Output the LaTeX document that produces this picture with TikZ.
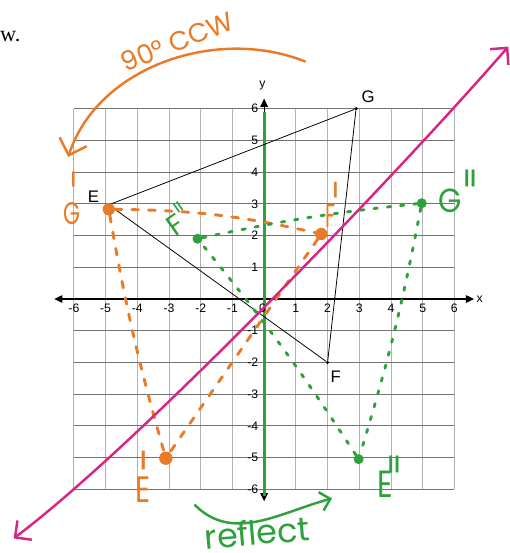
\documentclass[tikz,border=0pt]{standalone}
\usepackage{fontspec}
\setmainfont{Liberation Sans}
\newfontfamily\handfont{Poppins}
\newfontfamily\primefont{DejaVu Sans}
\newfontfamily\pagefont{Liberation Serif}
\usetikzlibrary{arrows.meta}
\definecolor{penorange}{RGB}{233,122,38}
\definecolor{pengreen}{RGB}{46,160,60}
\definecolor{penpink}{RGB}{218,36,130}
\newcommand\thinmark[1]{\scalebox{0.55}[1]{#1}}
\begin{document}
\begin{tikzpicture}[x=1cm,y=1cm,
  gridh/.style={black!55, line width=0.7pt},
  gridv/.style={black!30, line width=0.7pt},
  axisline/.style={black, line width=1pt},
  axtip/.style={{Triangle[length=2.6mm,width=2.4mm]}-{Triangle[length=2.6mm,width=2.4mm]}},
  tick/.style={font=\fontsize{11}{13}\selectfont, inner sep=0pt},
  bdot/.style={circle, fill=black, inner sep=0pt, minimum size=3pt},
  tri/.style={black, line width=0.7pt},
  lab/.style={font=\fontsize{15}{17}\selectfont, inner sep=0pt},
  odot/.style={circle, fill=penorange, inner sep=0pt, minimum size=11pt},
  gdot/.style={circle, fill=pengreen, inner sep=0pt, minimum size=9pt},
  odash/.style={penorange, line width=2.6pt, line cap=round, dash pattern=on 6pt off 9pt},
  gdash/.style={pengreen, line width=2.6pt, line cap=round, dash pattern=on 3pt off 9pt},
  pen/.style={line width=2.2pt, line cap=round},
  hand/.style={inner sep=0pt},
  primemark/.style={inner sep=0pt, anchor=base},
]
\useasboundingbox (-8.33,-8.01) rectangle (7.73,9.43);

% grid
\foreach \i in {-6,...,6} {
  \draw[gridv] (\i,-6) -- (\i,6);
}
\foreach \i in {-6,...,6} {
  \draw[gridh] (-6,\i) -- (6,\i);
}

% axes
\coordinate (xl) at (-6.62,0);
\coordinate (xr) at (6.62,0);
\draw[axisline, axtip] (xl) -- (xr);
\coordinate (yb) at (0,-6.38);
\coordinate (yt) at (0,6.32);
\draw[axisline, axtip] (yb) -- (yt);
\coordinate (gt) at (0,5.9);
\coordinate (gb) at (0,-6.22);
\draw[pengreen, line width=2.6pt] (gt) -- (gb);
\node[tick] (xlab) at (6.8,-0.02) {x};
\node[tick] (ylab) at (-0.05,6.72) {y};

% tick labels
\foreach \i in {-6,...,-1,1,2,3,4,5,6} {
  \node[tick] (xt\i) at (\i,-0.3) {\i};
  \node[tick, anchor=east] (yt\i) at (-0.18,\i) {\i};
}
\node[tick] (zero) at (-0.05,-0.28) {0};

% original triangle EFG
\node[bdot] (E) at (-4.9,2.97) {};
\node[bdot] (F) at (2,-2) {};
\node[bdot] (G) at (2.9,6) {};
\draw[tri] (E) -- (G) -- (F) -- (E);
\node[lab] (Elab) at (-5.38,3.23) {E};
\node[lab] (Flab) at (2.26,-2.45) {F};
\node[lab] (Glab) at (3.28,6.38) {G};

% rotated image (orange)
\node[odot] (Gp) at (-4.9,2.83) {};
\node[odot] (Fp) at (1.8,2.05) {};
\node[odot, minimum size=12pt] (Ep) at (-3.1,-5.02) {};
\draw[odash] (Gp) to[bend left=6] (Fp);
\draw[odash] (Fp) -- (Ep);
\draw[odash] (Gp) to[bend right=3] (Ep);

% reflected image (green)
\node[gdot] (Gpp) at (4.97,3.02) {};
\node[gdot] (Fpp) at (-2.1,1.9) {};
\node[gdot] (Epp) at (2.98,-5.05) {};
\draw[gdash] (Fpp) to[bend left=3] (Gpp);
\draw[gdash] (Gpp) to[bend left=3] (Epp);
\draw[gdash] (Epp) to[bend right=3] (Fpp);

% handwritten labels (orange)
\node[hand, text=penorange, font=\handfont\fontsize{28}{30}\selectfont] (Gpl) at (-6.07,2.7) {\scalebox{0.7}[1]{G}};
\node[primemark, text=penorange, font=\primefont\fontsize{50}{50}\selectfont] (Gplp) at (-6.02,2.74) {\thinmark{\textquotesingle}};
\node[hand, text=penorange, font=\handfont\fontsize{30}{32}\selectfont] (Fpl) at (2.11,2.62) {\scalebox{0.6}[1]{F}};
\node[primemark, text=penorange, font=\primefont\fontsize{52}{52}\selectfont] (Fplp) at (2.27,2.36) {\thinmark{\textquotesingle}};
\node[hand, text=penorange, font=\handfont\fontsize{33}{35}\selectfont] (Epl) at (-3.82,-6.02) {\scalebox{0.8}[1]{E}};
\node[primemark, text=penorange, font=\primefont\fontsize{62}{62}\selectfont] (Eplp) at (-3.8,-6.4) {\thinmark{\textquotesingle}};

% handwritten labels (green)
\node[hand, text=pengreen, font=\handfont\fontsize{30}{32}\selectfont] (Gppl) at (5.87,3.1) {\scalebox{0.9}[1]{G}};
\node[primemark, text=pengreen, font=\primefont\fontsize{56}{56}\selectfont] (Gpplp) at (6.49,2.64) {\thinmark{\textquotedbl}};
\node[hand, text=pengreen, font=\handfont\fontsize{26}{28}\selectfont, rotate=35] (Fppl) at (-2.72,2.52) {F{\primefont\fontsize{34}{34}\selectfont\thinmark{\textquotedbl}}};
\node[hand, text=pengreen, font=\handfont\fontsize{34}{36}\selectfont] (Eppl) at (3.82,-5.84) {\scalebox{0.8}[1]{E}};
\node[primemark, text=pengreen, font=\primefont\fontsize{56}{56}\selectfont] (Epplp) at (4.1,-6.4) {\thinmark{\textquotedbl}};

% line of reflection (magenta)
\coordinate (m1) at (-7.9,-7.55);
\coordinate (m2) at (7.7,7.96);
\draw[penpink, pen, {Straight Barb[length=3.8mm,width=7.6mm]}-{Straight Barb[length=3.8mm,width=7.6mm]}]
  (m1) .. controls (-3.9,-4.55) and (4.42,4.18) .. (m2);

% 90 deg ccw arc
\coordinate (oa1) at (1.29,7.49);
\coordinate (oa2) at (-6.18,4.48);
\draw[penorange, pen, -{Straight Barb[length=4.5mm,width=9mm]}] (oa1) .. controls (-1.49,8.61) and (-5.25,7.33) .. (oa2);
\node[hand, text=penorange, font=\handfont\fontsize{24}{26}\selectfont, rotate=22] (ccw) at (-2.74,8.12) {90° CCW};

% reflect arc
\coordinate (ga1) at (-2.18,-6.5);
\coordinate (ga2) at (2.14,-6.29);
\draw[pengreen, pen, -{Straight Barb[length=3mm,width=6mm]}] (ga1) to[out=-45,in=195] (ga2);
\node[hand, text=pengreen, font=\handfont\fontsize{30}{32}\selectfont, rotate=5] (refl) at (-0.22,-7.36) {reflect};

% scanned page text
\node[inner sep=0pt, anchor=west, font=\pagefont\fontsize{20}{22}\selectfont] (pagew) at (-8.33,8.27) {w.};
\end{tikzpicture}
\end{document}
